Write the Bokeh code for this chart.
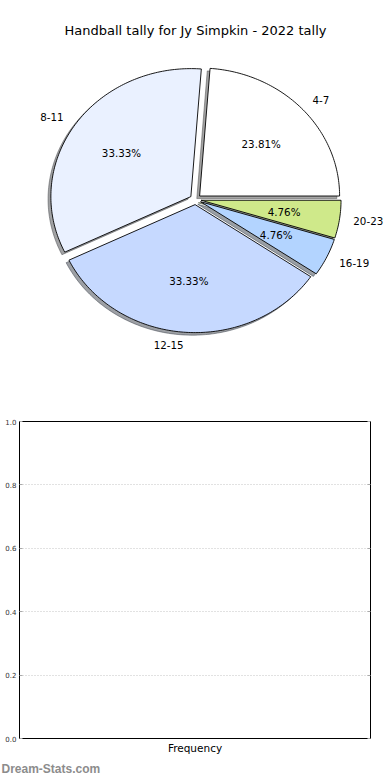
import numpy as np
from bokeh.plotting import figure
from bokeh.models import (Range1d, Label, LabelSet, FixedTicker, LinearAxis, ColumnDataSource,
                          NumeralTickFormatter)
from bokeh.embed import file_html
from bokeh.resources import INLINE
from bokeh.core.properties import value

# ---------------- data ----------------
chart_title = "Handball tally for Jy Simpkin - 2022 tally"
categories = ["4-7", "8-11", "12-15", "16-19", "20-23"]
counts = [5, 7, 7, 1, 1]
slice_colors = ["#ffffff", "#eaf1ff", "#c6d9ff", "#b3d4ff", "#cfe98a"]
bar_y_ticks = [0.0, 0.2, 0.4, 0.6, 0.8, 1.0]
bar_x_label = "Frequency"
watermark = "Dream-Stats.com"

# ---------------- style / layout ----------------
FONT = "DejaVu Sans"
W = 390
H1 = 388           # pie figure
H2 = 368           # bar chart figure
H3 = 24            # watermark strip
FL, FR = 19, 20    # bar chart frame borders
CX, CY = 195, 199  # pie centre in figure pixels (from top-left)
RX, RY = 140, 128  # pie radii in pixels
EXPLODE = 0.04
SHADOW = 0.02

# ---------------- pie figure ----------------
p = figure(width=W, height=H1, output_backend="svg", toolbar_location=None,
           x_range=Range1d(-CX / RX, (W - CX) / RX),
           y_range=Range1d(-(H1 - CY) / RY, CY / RY),
           x_axis_location=None, y_axis_location=None,
           min_border_left=0, min_border_right=0, min_border_top=0, min_border_bottom=0,
           outline_line_color=None)
p.grid.visible = False
p.background_fill_color = "white"
p.border_fill_color = "white"

vals = np.array(counts, dtype=float)
frac = vals / vals.sum()
edges = np.concatenate([[0.0], np.cumsum(frac)]) * 2 * np.pi

wx, wy, shx, shy, shc = [], [], [], [], []
lab_x, lab_y, lab_al = [], [], []
pct_x, pct_y, pct_t = [], [], []


def hex_to_rgb(h):
    h = h.lstrip("#")
    return tuple(int(h[i:i + 2], 16) for i in (0, 2, 4))


for i in range(len(counts)):
    t1, t2 = edges[i], edges[i + 1]
    mid = 0.5 * (t1 + t2)
    ox, oy = EXPLODE * np.cos(mid), EXPLODE * np.sin(mid)
    n = max(int(np.degrees(t2 - t1)), 2) + 1
    th = np.linspace(t1, t2, n)
    px = np.concatenate([[ox], ox + np.cos(th), [ox]])
    py = np.concatenate([[oy], oy + np.sin(th), [oy]])
    wx.append(list(px))
    wy.append(list(py))
    shx.append(list(px - SHADOW))
    shy.append(list(py - SHADOW))
    r, g, b = hex_to_rgb(slice_colors[i])
    shc.append("#%02x%02x%02x" % (int(r * 0.3), int(g * 0.3), int(b * 0.3)))
    lx = ox + 1.1 * np.cos(mid)
    ly = oy + 1.1 * np.sin(mid)
    lab_x.append(lx)
    lab_y.append(ly)
    lab_al.append("left" if lx > 0 else "right")
    pct_x.append(ox + 0.6 * np.cos(mid))
    pct_y.append(oy + 0.6 * np.sin(mid))
    pct_t.append("%.2f%%" % (frac[i] * 100))

p.patches(shx, shy, fill_color=shc, fill_alpha=0.5, line_color=shc, line_alpha=0.5, line_width=1)
p.patches(wx, wy, fill_color=slice_colors, line_color="black", line_width=0.9, line_join="round")

lab_src = ColumnDataSource(dict(x=lab_x, y=lab_y, t=categories, al=lab_al))
p.add_layout(LabelSet(x="x", y="y", text="t", text_align="al", text_baseline="middle",
                      source=lab_src, text_font=value(FONT), text_font_size=value("10.3px"),
                      text_color="black"))
pct_src = ColumnDataSource(dict(x=pct_x, y=pct_y, t=pct_t))
p.add_layout(LabelSet(x="x", y="y", text="t", text_align="center", text_baseline="middle",
                      source=pct_src, text_font=value(FONT), text_font_size=value("10.3px"),
                      text_color="black"))

p.add_layout(Label(x=0, y=(CY - 29.5) / RY, text=chart_title, text_align="center",
                   text_baseline="middle", text_font=FONT, text_font_size="13px",
                   text_color="black"))

# ---------------- empty bar chart ----------------
p2 = figure(width=W, height=H2, output_backend="svg", toolbar_location=None,
            x_range=Range1d(0, 1), y_range=Range1d(0, 1),
            min_border_top=33, min_border_bottom=16, min_border_left=FL, min_border_right=FR,
            outline_line_color="black", outline_line_width=1)
p2.background_fill_color = "white"
p2.border_fill_color = "white"

ya = p2.yaxis[0]
ya.ticker = FixedTicker(ticks=bar_y_ticks)
ya.formatter = NumeralTickFormatter(format="0.0")
ya.major_label_text_font = FONT
ya.major_label_text_font_size = "7px"
ya.major_label_text_color = "#333333"
ya.major_label_standoff = 3
ya.major_tick_in = 3
ya.major_tick_out = 0
ya.major_tick_line_color = "#aaaaaa"
ya.minor_tick_line_color = None
ya.axis_line_color = "black"

xa = p2.xaxis[0]
xa.ticker = FixedTicker(ticks=[])
xa.axis_label = bar_x_label
xa.axis_label_text_font = FONT
xa.axis_label_text_font_style = "normal"
xa.axis_label_text_font_size = "10.5px"
xa.axis_label_text_color = "black"
xa.axis_label_standoff = 3
xa.major_label_standoff = 0
xa.major_tick_out = 0
xa.major_tick_in = 0
xa.minor_tick_line_color = None
xa.axis_line_color = "black"

ra = LinearAxis(ticker=FixedTicker(ticks=bar_y_ticks),
                major_label_overrides={t: "" for t in bar_y_ticks},
                major_label_standoff=0, major_tick_in=3, major_tick_out=0,
                major_tick_line_color="#aaaaaa", minor_tick_line_color=None,
                axis_line_color="black")
p2.add_layout(ra, "right")

p2.xgrid.visible = False
p2.ygrid.ticker = FixedTicker(ticks=bar_y_ticks)
p2.ygrid.grid_line_color = "#c4c4c4"
p2.ygrid.grid_line_dash = "1 2"
p2.ygrid.grid_line_width = 1

# ---------------- watermark strip ----------------
p3 = figure(width=W, height=H3, output_backend="svg", toolbar_location=None,
            x_range=Range1d(0, W), y_range=Range1d(0, H3),
            x_axis_location=None, y_axis_location=None,
            min_border_left=0, min_border_right=0, min_border_top=0, min_border_bottom=0,
            outline_line_color=None)
p3.grid.visible = False
p3.background_fill_color = "white"
p3.border_fill_color = "white"
p3.add_layout(Label(x=1, y=H3 / 2, text=watermark, text_font="Liberation Sans",
                    text_font_style="bold", text_font_size="12px",
                    text_color="#8c8c8c", text_baseline="middle"))

open("out.html", "w").write(file_html([p, p2, p3], INLINE))
